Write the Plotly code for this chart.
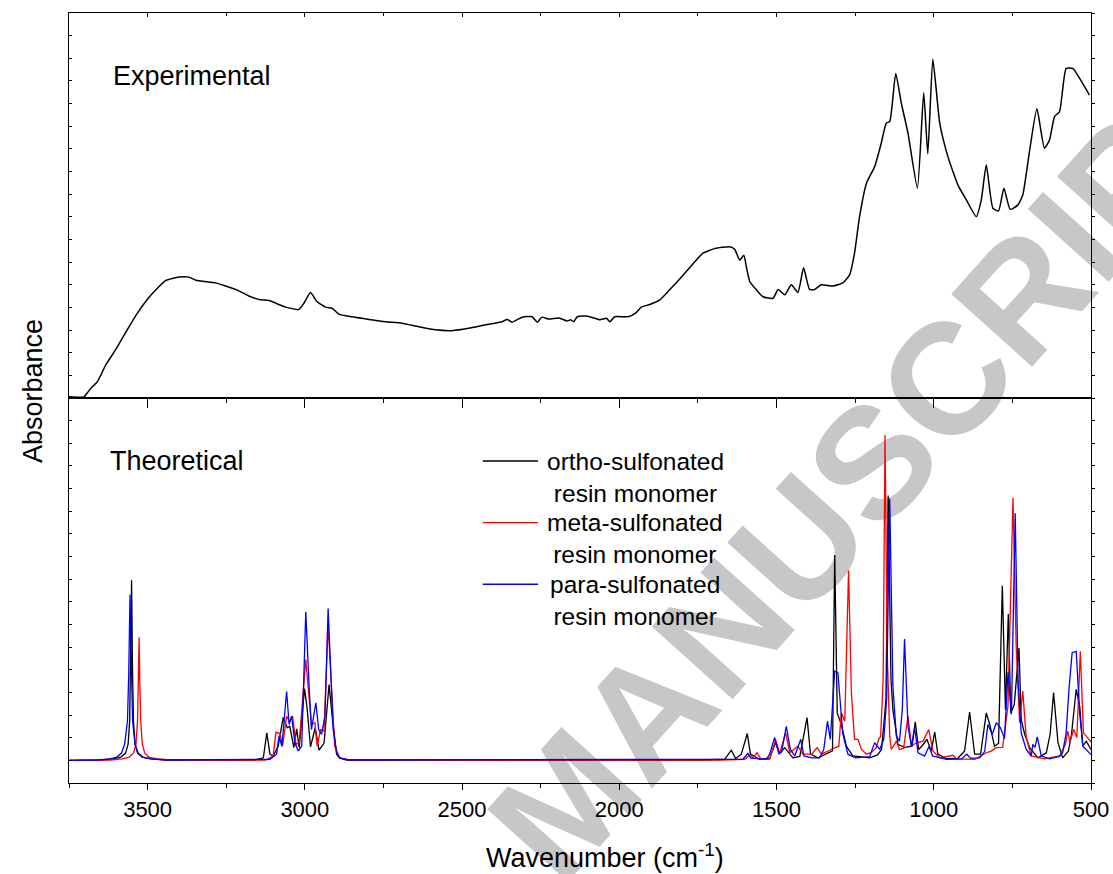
import plotly.graph_objects as go

# ---------------- data ----------------
# Experimental spectrum (wavenumber cm-1, absorbance, arbitrary units)
exp_wn = [3750, 3702, 3697, 3676, 3660, 3633, 3602, 3565, 3533, 3501,
          3474, 3443, 3400, 3369, 3347, 3284, 3252, 3220, 3178, 3146,
          3114, 3061, 3019, 3003, 2982, 2961, 2934, 2913, 2892, 2850,
          2796, 2743, 2691, 2638, 2584, 2532, 2479, 2425, 2373, 2357,
          2341, 2309, 2277, 2261, 2246, 2224, 2192, 2166, 2155, 2145,
          2134, 2108, 2089, 2062, 2041, 2030, 2015, 1972, 1946, 1930,
          1903, 1871, 1840, 1797, 1766, 1734, 1697, 1649, 1633, 1617,
          1604, 1596, 1585, 1564, 1543, 1511, 1495, 1474, 1453, 1432,
          1414, 1395, 1379, 1358, 1321, 1289, 1268, 1252, 1236, 1214,
          1188, 1167, 1151, 1140, 1121, 1103, 1082, 1052, 1032, 1019,
          1003, 981, 955, 923, 896, 865, 849, 833, 812, 794,
          777, 757, 733, 717, 695, 672, 648, 632, 616, 600,
          579, 558, 536, 505]
exp_abs = [0.003, 0.003, 0.008, 0.029, 0.042, 0.086, 0.125, 0.177, 0.220, 0.256,
           0.281, 0.305, 0.314, 0.314, 0.306, 0.299, 0.291, 0.282, 0.265, 0.256,
           0.253, 0.236, 0.230, 0.246, 0.274, 0.250, 0.236, 0.233, 0.218, 0.211,
           0.204, 0.198, 0.194, 0.185, 0.177, 0.175, 0.181, 0.190, 0.198, 0.204,
           0.197, 0.210, 0.211, 0.197, 0.210, 0.205, 0.208, 0.200, 0.203, 0.198,
           0.211, 0.213, 0.210, 0.203, 0.207, 0.198, 0.211, 0.211, 0.222, 0.236,
           0.243, 0.255, 0.281, 0.319, 0.348, 0.376, 0.388, 0.393, 0.386, 0.358,
           0.371, 0.341, 0.302, 0.281, 0.263, 0.259, 0.282, 0.268, 0.294, 0.274,
           0.338, 0.282, 0.282, 0.294, 0.291, 0.299, 0.319, 0.376, 0.471, 0.558,
           0.601, 0.662, 0.714, 0.718, 0.843, 0.765, 0.688, 0.545, 0.793, 0.634,
           0.880, 0.714, 0.627, 0.553, 0.514, 0.471, 0.514, 0.605, 0.493, 0.486,
           0.545, 0.490, 0.501, 0.527, 0.644, 0.751, 0.649, 0.670, 0.731, 0.744,
           0.856, 0.856, 0.830, 0.787]

# Theoretical spectra: ortho-sulfonated resin monomer
ortho_wn = [3750, 3650, 3610, 3585, 3570, 3562, 3557, 3554, 3551, 3548, 3545, 3540, 3532, 3517, 3490, 3440,
            3159, 3132, 3121, 3111, 3101, 3085, 3069, 3056, 3048, 3035, 3026, 3018, 3001, 2993, 2982,
            2967, 2955, 2939, 2923, 2912, 2899, 2889, 2867,
            1741, 1665, 1644, 1630, 1612, 1593, 1583, 1554, 1522, 1503, 1490, 1474, 1448, 1426, 1403,
            1392, 1368, 1337, 1322, 1315, 1307, 1294, 1278, 1257, 1204, 1179, 1166, 1152, 1145, 1136,
            1130, 1114, 1093, 1069, 1059, 1048, 1036, 1022, 1008, 997, 987, 960, 924, 902, 886, 870,
            851, 833, 822, 807, 794, 782, 772, 763, 755, 744, 729, 722, 711, 695, 669, 642, 630, 619,
            605, 590, 572, 562, 547, 536, 526, 515, 502, 500]
ortho_abs = [0.0, 0.001, 0.004, 0.009, 0.02, 0.045, 0.11, 0.25, 0.497, 0.25, 0.11, 0.045, 0.02, 0.009, 0.004, 0.001,
             0.001, 0.007, 0.076, 0.017, 0.012, 0.039, 0.118, 0.090, 0.094, 0.035, 0.087, 0.035, 0.198, 0.145, 0.037,
             0.090, 0.028, 0.047, 0.209, 0.113, 0.017, 0.006, 0.001,
             0.001, 0.003, 0.028, 0.005, 0.017, 0.074, 0.017, 0.003, 0.006, 0.049, 0.019, 0.035, 0.007, 0.011, 0.118,
             0.017, 0.007, 0.019, 0.026, 0.567, 0.131, 0.099, 0.039, 0.012, 0.007, 0.015, 0.030, 0.168, 0.731, 0.223,
             0.140, 0.044, 0.036, 0.039, 0.106, 0.030, 0.041, 0.058, 0.026, 0.078, 0.017, 0.005, 0.005, 0.026, 0.133, 0.017,
             0.017, 0.131, 0.099, 0.039, 0.047, 0.482, 0.140, 0.404, 0.131, 0.154, 0.310, 0.113, 0.072, 0.035, 0.007, 0.021, 0.072, 0.187,
             0.049, 0.007, 0.025, 0.072, 0.196, 0.150, 0.039, 0.053, 0.035, 0.030]

# meta-sulfonated resin monomer
meta_wn = [3750, 3620, 3580, 3558, 3545, 3537, 3532, 3529, 3527, 3525, 3522, 3517, 3509, 3496, 3470, 3420,
           3124, 3101, 3092, 3079, 3071, 3058, 3049, 3039, 3028, 3018, 2997, 2986, 2979, 2968, 2961,
           2950, 2939, 2926, 2915, 2905, 2889, 2863,
           1680, 1601, 1585, 1575, 1562, 1550, 1522, 1503, 1490, 1471, 1458, 1432, 1416, 1388, 1371,
           1357, 1326, 1302, 1294, 1283, 1271, 1262, 1252, 1241, 1230, 1214, 1199, 1183, 1175, 1169,
           1161, 1155, 1148, 1140, 1135, 1119, 1109, 1096, 1082, 1071, 1058, 1034, 1016, 1003, 981,
           950, 939, 928, 870, 833, 819, 801, 781, 764, 757, 748, 738, 727, 717, 706, 690, 648,
           600, 581, 574, 567, 555, 545, 534, 524, 502, 500]
meta_abs = [0.0, 0.001, 0.004, 0.009, 0.02, 0.045, 0.11, 0.22, 0.340, 0.22, 0.11, 0.045, 0.02, 0.009, 0.004, 0.001,
            0.001, 0.012, 0.078, 0.074, 0.039, 0.122, 0.107, 0.122, 0.044, 0.049, 0.278, 0.168, 0.099, 0.104, 0.039,
            0.085, 0.081, 0.375, 0.196, 0.039, 0.007, 0.001,
            0.001, 0.003, 0.014, 0.007, 0.021, 0.004, 0.003, 0.056, 0.019, 0.076, 0.021, 0.039, 0.017, 0.017, 0.035,
            0.017, 0.030, 0.039, 0.131, 0.108, 0.524, 0.187, 0.058, 0.058, 0.030, 0.017, 0.021, 0.035, 0.058, 0.066,
            0.223, 0.898, 0.297, 0.067, 0.030, 0.053, 0.030, 0.033, 0.122, 0.039, 0.047, 0.053, 0.085, 0.026, 0.007,
            0.011, 0.014, 0.004, 0.003, 0.021, 0.025, 0.035, 0.036, 0.150, 0.444, 0.724, 0.315, 0.104, 0.191, 0.063, 0.012, 0.004,
            0.012, 0.044, 0.081, 0.050, 0.085, 0.063, 0.301, 0.076, 0.053, 0.050]

# para-sulfonated resin monomer
para_wn = [3750, 3660, 3620, 3598, 3583, 3573, 3564, 3560, 3556, 3552, 3548, 3540, 3530, 3515, 3490, 3440,
           3137, 3111, 3090, 3082, 3073, 3058, 3050, 3042, 3032, 3021, 3010, 2997, 2986, 2979, 2965,
           2956, 2947, 2936, 2926, 2918, 2910, 2899, 2889, 2858,
           1633, 1607, 1591, 1582, 1532, 1522, 1506, 1493, 1484, 1469, 1456, 1442, 1423, 1413, 1388,
           1363, 1350, 1338, 1329, 1315, 1305, 1297, 1289, 1273, 1249, 1204, 1188, 1172, 1159, 1150,
           1140, 1130, 1119, 1109, 1100, 1093, 1082, 1071, 1061, 1050, 1029, 1015, 1004, 960, 912,
           895, 883, 854, 838, 828, 814, 801, 788, 775, 764, 753, 741, 732, 722, 706, 690, 685,
           678, 671, 658, 632, 600, 590, 579, 570, 560, 547, 536, 526, 502, 500]
para_abs = [0.0, 0.001, 0.004, 0.009, 0.02, 0.045, 0.11, 0.24, 0.457, 0.24, 0.11, 0.045, 0.02, 0.009, 0.004, 0.001,
            0.001, 0.003, 0.017, 0.067, 0.039, 0.190, 0.099, 0.122, 0.049, 0.026, 0.039, 0.410, 0.196, 0.085, 0.159,
            0.085, 0.072, 0.122, 0.419, 0.242, 0.085, 0.021, 0.007, 0.001,
            0.001, 0.003, 0.019, 0.006, 0.003, 0.017, 0.063, 0.019, 0.023, 0.094, 0.030, 0.012, 0.058, 0.012, 0.007,
            0.007, 0.030, 0.108, 0.058, 0.246, 0.242, 0.168, 0.072, 0.017, 0.007, 0.010, 0.049, 0.030, 0.058, 0.168,
            0.722, 0.205, 0.067, 0.053, 0.140, 0.335, 0.094, 0.039, 0.090, 0.021, 0.012, 0.039, 0.012, 0.003, 0.004,
            0.017, 0.006, 0.007, 0.025, 0.099, 0.072, 0.104, 0.090, 0.060, 0.243, 0.127, 0.682, 0.223, 0.076, 0.030, 0.012, 0.044,
            0.036, 0.065, 0.012, 0.004, 0.011, 0.022, 0.076, 0.196, 0.297, 0.301, 0.131, 0.039, 0.017, 0.016]

series_names = ["ortho-sulfonated<br>resin monomer",
                "meta-sulfonated<br>resin monomer",
                "para-sulfonated<br>resin monomer"]
series_colors = ["#000000", "#ff0000", "#0000ff"]
x_ticks = [3500, 3000, 2500, 2000, 1500, 1000, 500]

FONT = "Arial, Liberation Sans, sans-serif"

# ---------------- figure ----------------
fig = go.Figure()

fig.add_trace(go.Scatter(x=exp_wn, y=exp_abs, xaxis="x2", yaxis="y2", mode="lines",
                         line=dict(color="black", width=1.5, shape="spline", smoothing=0.5),
                         name="Experimental", showlegend=False))

for wn, ab, nm, col in zip([ortho_wn, meta_wn, para_wn], [ortho_abs, meta_abs, para_abs],
                           series_names, series_colors):
    fig.add_trace(go.Scatter(x=wn, y=ab, xaxis="x", yaxis="y", mode="lines",
                             line=dict(color=col, width=1.3), name=nm, showlegend=False))

# empty traces so that the extra (frame) axes get drawn
for xa, ya in [("x3", "y"), ("x", "y3"), ("x2", "y4"), ("x4", "y2")]:
    fig.add_trace(go.Scatter(x=[], y=[], xaxis=xa, yaxis=ya, mode="lines",
                             showlegend=False, hoverinfo="skip"))

axcommon = dict(range=[3750, 500], autorange=False, showgrid=False, zeroline=False,
                showline=True, linecolor="black", linewidth=1.3,
                tickcolor="black", tickwidth=1.2, tickvals=x_ticks)


def minor(direction, length):
    return dict(dtick=250, tick0=500, ticks=direction, ticklen=length,
                tickcolor="black", tickwidth=1.2, showgrid=False)


ycommon = dict(autorange=False, showgrid=False, zeroline=False, showline=True,
               linecolor="black", linewidth=1.3, ticklen=3, tickwidth=1,
               tickcolor="black", tick0=0, showticklabels=False)

fig.update_layout(
    width=1113, height=874,
    margin=dict(l=69, r=22, t=13, b=91, autoexpand=False),
    paper_bgcolor="white", plot_bgcolor="rgba(0,0,0,0)",
    showlegend=False,
    font=dict(family=FONT, color="black"),
    # bottom panel, bottom edge
    xaxis=dict(**axcommon, anchor="y", side="bottom", ticks="outside", ticklen=6,
               tickfont=dict(size=22, family=FONT, color="black"),
               minor=minor("outside", 4)),
    # bottom panel, top edge (divider)
    xaxis3=dict(**axcommon, anchor="y", overlaying="x", side="top", ticks="inside", ticklen=10,
                showticklabels=False, minor=minor("inside", 5)),
    # top panel, bottom edge
    xaxis2=dict(**axcommon, anchor="y2", side="bottom", ticks="", showticklabels=False),
    # top panel, top edge
    xaxis4=dict(**axcommon, anchor="y2", overlaying="x2", side="top", ticks="inside", ticklen=4,
                showticklabels=False, minor=minor("inside", 3)),
    yaxis=dict(**ycommon, domain=[0, 0.5], range=[-0.0625, 1.0], anchor="x",
               side="left", ticks="inside", dtick=0.0625),
    yaxis3=dict(**ycommon, range=[-0.0625, 1.0], anchor="x", overlaying="y", side="right",
                ticks="outside", dtick=0.0625),
    yaxis2=dict(**ycommon, domain=[0.5, 1.0], range=[0, 1.0], anchor="x2",
                side="left", ticks="inside", dtick=1 / 17),
    yaxis4=dict(**ycommon, range=[0, 1.0], anchor="x2", overlaying="y2", side="right",
                ticks="outside", dtick=1 / 17),
)

# watermark (behind data)
fig.add_shape(type="rect", xref="paper", yref="paper", x0=0.4265, x1=0.5265, y0=-0.062, y1=0.042,
              line=dict(width=0), fillcolor="rgba(0,0,0,0)", layer="below",
              label=dict(text="<b>ACCEPTED MANUSCRIPT</b>", textangle=-48,
                         textposition="middle center",
                         font=dict(size=158, color="#c6c7c8", family=FONT)))

# legend (drawn manually to mimic the original layout)
leg_y = [0.4182, 0.3381, 0.2581]
leg_text_y = [0.3974, 0.3169, 0.2364]
for nm, col, ly, ty in zip(series_names, series_colors, leg_y, leg_text_y):
    fig.add_shape(type="line", xref="paper", yref="paper", x0=0.4048, x1=0.4589, y0=ly, y1=ly,
                  line=dict(color=col, width=1.3))
    fig.add_annotation(xref="paper", yref="paper", x=0.5543, y=ty, text=nm, showarrow=False,
                       xanchor="center", yanchor="middle", align="center",
                       font=dict(size=24.5, family=FONT, color="black"))

# panel labels and axis titles
fig.add_annotation(xref="paper", yref="paper", x=0.0415, y=0.9188, text="Experimental",
                   showarrow=False, xanchor="left", yanchor="middle",
                   font=dict(size=27, family=FONT, color="black"))
fig.add_annotation(xref="paper", yref="paper", x=0.0386, y=0.4182, text="Theoretical",
                   showarrow=False, xanchor="left", yanchor="middle",
                   font=dict(size=27, family=FONT, color="black"))
fig.add_annotation(xref="paper", yref="paper", x=-0.0352, y=0.5091, text="Absorbance",
                   showarrow=False, textangle=-90, xanchor="center", yanchor="middle",
                   font=dict(size=27, family=FONT, color="black"))
fig.add_annotation(xref="paper", yref="paper", x=0.5245, y=-0.0948,
                   text="Wavenumber (cm<sup>-1</sup>)",
                   showarrow=False, xanchor="center", yanchor="middle",
                   font=dict(size=27, family=FONT, color="black"))

fig.write_html("out.html")
